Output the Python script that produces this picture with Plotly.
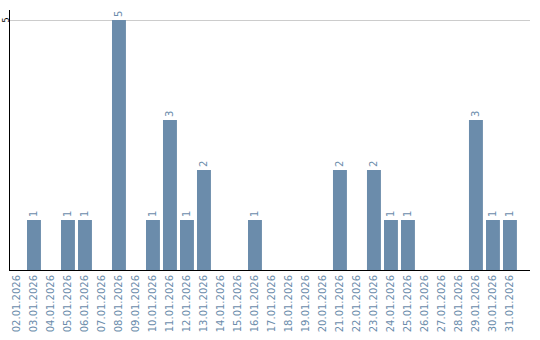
import plotly.graph_objects as go

dates = ["02.01.2026","03.01.2026","04.01.2026","05.01.2026","06.01.2026","07.01.2026",
         "08.01.2026","09.01.2026","10.01.2026","11.01.2026","12.01.2026","13.01.2026",
         "14.01.2026","15.01.2026","16.01.2026","17.01.2026","18.01.2026","19.01.2026",
         "20.01.2026","21.01.2026","22.01.2026","23.01.2026","24.01.2026","25.01.2026",
         "26.01.2026","27.01.2026","28.01.2026","29.01.2026","30.01.2026","31.01.2026"]
counts = [0,1,0,1,1,0,5,0,1,3,1,2,0,0,1,0,0,0,0,2,0,2,1,1,0,0,0,3,1,1]
labels = [str(v) if v > 0 else "" for v in counts]
y_tick = 5

bar_color = "#6b8cab"

fig = go.Figure(go.Bar(
    x=dates, y=counts, text=labels, textposition="outside", textangle=-90,
    textfont=dict(family="DejaVu Sans", size=10, color="#6b8cab"),
    marker=dict(color=bar_color, line=dict(width=0)),
    cliponaxis=False,
))
fig.update_layout(
    width=540, height=340, margin=dict(l=10, r=10, t=10, b=70),
    paper_bgcolor="white", plot_bgcolor="white", showlegend=False,
    bargap=0.18,
    xaxis=dict(type="category", tickangle=-90, showline=True, linecolor="black", linewidth=1,
               range=[-0.41, 30.18],
               tickfont=dict(family="DejaVu Sans", size=10, color="#6b8cab"), ticks="",
               showgrid=False, automargin=False),
    yaxis=dict(range=[0, 5.2], tickvals=[y_tick], showticklabels=False,
               showline=True, linecolor="black", linewidth=1,
               gridcolor="#cccccc", gridwidth=1, zeroline=False, automargin=False, ticks=""),
)
fig.add_annotation(xref="paper", x=0, xanchor="right", xshift=2, yref="y", y=y_tick,
                   text=str(y_tick), showarrow=False, textangle=-90,
                   font=dict(family="DejaVu Sans", size=8, color="black"))
fig.write_html("out.html")
